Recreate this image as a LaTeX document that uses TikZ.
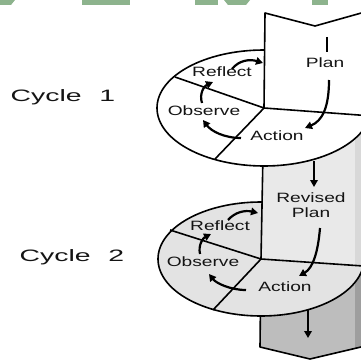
\documentclass[tikz,border=0pt]{standalone}
\usepackage{fontspec}
\setmainfont{Liberation Sans}
\usetikzlibrary{arrows.meta}
\definecolor{greenc}{HTML}{8DB38D}
\definecolor{ellgray}{HTML}{E3E3E3}
\definecolor{midgray}{HTML}{E9E9E9}
\definecolor{midside}{HTML}{D8D8D8}
\definecolor{botgray}{HTML}{BDBDBD}
\definecolor{botside}{HTML}{9E9E9E}
\definecolor{txt}{HTML}{141414}
\newcommand\hx[1]{\scalebox{1.42}[1]{#1}}
\newcommand\hc[1]{\scalebox{1.72}[1]{#1}}
\begin{document}
\begin{tikzpicture}[x=1pt,y=-1pt,
  lbl/.style={font=\fontsize{13.5}{14.5}\selectfont, text=txt, align=center, inner sep=0pt},
  cyc/.style={font=\fontsize{16.5}{18}\selectfont, text=txt, inner sep=0pt},
  outline/.style={line width=1.6pt, line join=round},
  arr/.style={line width=2.2pt, -{Triangle[length=7pt,width=7.5pt]}},
]
\useasboundingbox (0,0) rectangle (361,361);
\clip (0,0) rectangle (361,361);
\fill[white] (0,0) rectangle (361,361);

% cropped title letters at the top
\fill[greenc] (0,0) -- (15,0) -- (11,5) -- (0,5) -- cycle;
\fill[greenc] (82,0) rectangle (130,5);
\fill[greenc] (195,0) rectangle (218,5);
\fill[greenc] (224,0) -- (250,0) -- (246,5) -- (228,5) -- cycle;
\fill[greenc] (312,0) rectangle (328,5);

\coordinate (c1) at (264,108);
\coordinate (c2) at (261,259);

% bottom section of the column
\fill[botgray] (c2) -- (372,266.6) -- (372,344.5) -- (361,347) -- (310,359) -- (260,347) -- cycle;
\fill[botside] (355,262) -- (372,262) -- (372,344.5) -- (361,347) -- (355,348.4) -- cycle;
\draw[outline] (c2) -- (260,347) -- (310,359) -- (361,347) -- (372,344.5);

% cycle 2 disc
\filldraw[fill=ellgray, outline] (c2) ellipse [x radius=103, y radius=57];

% middle section of the column
\fill[midgray] (264,100) -- (372,100) -- (372,266.6) -- (c2) -- cycle;
\fill[midside] (355,100) -- (372,100) -- (372,266.6) -- (355,265.6) -- cycle;
\draw[outline] (264,100) -- (c2) -- (372,266.6);

% cycle 1 disc
\filldraw[fill=white, outline] (c1) ellipse [x radius=107, y radius=58];

% top section of the column
\fill[white] (265,13) -- (315,26) -- (372,10) -- (372,116) -- (c1) -- cycle;
\draw[outline] (c1) -- (265,13) -- (315,26) -- (372,10);
\draw[outline] (c1) -- (372,116);

% sector lines
\coordinate (l1) at (175,77);
\coordinate (d1) at (215,159);
\coordinate (l2) at (170,230);
\coordinate (d2) at (213,310);
\draw[outline] (c1) -- (l1);
\draw[outline] (c1) -- (d1);
\draw[outline] (c2) -- (l2);
\draw[outline] (c2) -- (d2);

% labels
\node[cyc] (cy1) at (63,97) {\hc{Cycle\hspace{0.35em} 1}};
\node[cyc] (cy2) at (72,257) {\hc{Cycle\hspace{0.35em} 2}};
\node[lbl] (ref1) at (222,72) {\hx{Reflect}};
\node[lbl] (plan1) at (325,63) {\hx{Plan}};
\node[lbl] (obs1) at (204,111) {\hx{Observe}};
\node[lbl] (act1) at (277,136) {\hx{Action}};
\node[lbl] (ref2) at (220,226) {\hx{Reflect}};
\node[lbl] (plan2) at (311,205) {\hx{Revised}\\\hx{Plan}};
\node[lbl] (obs2) at (203,262) {\hx{Observe}};
\node[lbl] (act2) at (285,287) {\hx{Action}};

% arrows, cycle 1
\coordinate (pb1) at (327,37);
\coordinate (pb2) at (327,52);
\draw[line width=2.6pt] (pb1) -- (pb2);
\coordinate (pa1) at (329,80);
\coordinate (pa2) at (305,128);
\draw[arr] (pa1) .. controls (329,108) and (322,121) .. (pa2);
\coordinate (ra1) at (232,69);
\coordinate (ra2) at (263,63);
\draw[arr] (ra1) .. controls (239,60) and (250,59) .. (ra2);
\coordinate (oa1) at (202,103);
\coordinate (oa2) at (213,82);
\draw[arr] (oa1) .. controls (199,94) and (204,86) .. (oa2);
\coordinate (aa1) at (241,138);
\coordinate (aa2) at (203,120);
\draw[arr] (aa1) .. controls (224,138) and (211,131) .. (aa2);

% link between cycles
\coordinate (ln1) at (314,161);
\coordinate (ln2) at (314,187);
\draw[arr] (ln1) -- (ln2);

% arrows, cycle 2
\coordinate (pc1) at (320,228);
\coordinate (pc2) at (299,276);
\draw[arr] (pc1) .. controls (318,252) and (313,268) .. (pc2);
\coordinate (rb1) at (228,220);
\coordinate (rb2) at (258,213);
\draw[arr] (rb1) .. controls (235,212) and (245,210) .. (rb2);
\coordinate (ob1) at (200,254);
\coordinate (ob2) at (211,234);
\draw[arr] (ob1) .. controls (198,245) and (203,238) .. (ob2);
\coordinate (ab1) at (246,290);
\coordinate (ab2) at (209,274);
\draw[arr] (ab1) .. controls (230,290) and (216,283) .. (ab2);

\coordinate (bt1) at (308,309);
\coordinate (bt2) at (308,338);
\draw[arr] (bt1) -- (bt2);
\end{tikzpicture}
\end{document}
